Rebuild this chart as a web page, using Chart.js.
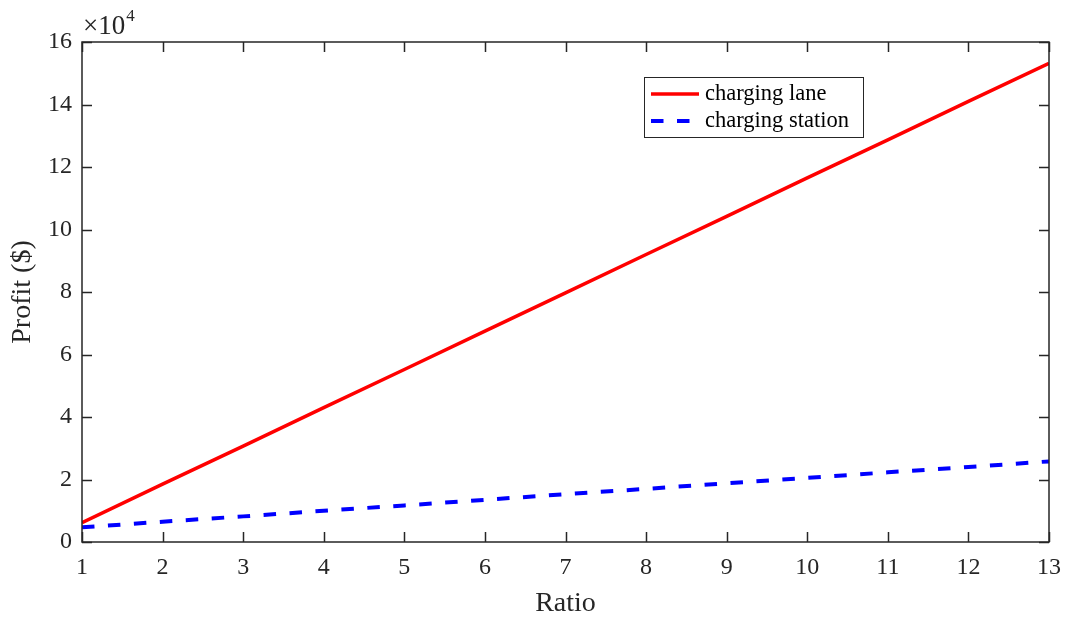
<!DOCTYPE html>
<html>
<head>
<meta charset="utf-8">
<script src="https://cdn.jsdelivr.net/npm/chart.js@4/dist/chart.umd.min.js"></script>
<style>
  html, body { margin: 0; padding: 0; background: #fff; }
  #wrap { width: 1068px; height: 625px; position: relative; }
</style>
</head>
<body>
<div id="wrap"><canvas id="myChart" width="1068" height="625"></canvas></div>
<script>
// data (profit in $)
const ratios = [1, 2, 3, 4, 5, 6, 7, 8, 9, 10, 11, 12, 13];
const laneProfit = [6200, 18500, 30700, 43000, 55200, 67500, 79700, 92000, 104200, 116500, 128700, 141000, 153200];
const stationProfit = [4700, 6500, 8200, 10000, 11700, 13500, 15300, 17000, 18800, 20500, 22300, 24000, 25800];
const yTicks = [0, 2, 4, 6, 8, 10, 12, 14, 16];
const xTicks = [1, 2, 3, 4, 5, 6, 7, 8, 9, 10, 11, 12, 13];
const seriesNames = ['charging lane', 'charging station'];

const axisColor = '#262626';
const fontFamily = '"Liberation Serif", "Times New Roman", serif';

// box round the axes with inward ticks, like matlab
const boxPlugin = {
  id: 'box_plugin',
  afterDraw(chart) {
    const ctx = chart.ctx;
    const a = chart.chartArea;
    const xs = chart.scales.x;
    const ys = chart.scales.y;
    ctx.save();
    ctx.strokeStyle = axisColor;
    ctx.lineWidth = 1.5;
    ctx.strokeRect(a.left, a.top, a.right - a.left, a.bottom - a.top);
    ctx.beginPath();
    xTicks.forEach(function (t) {
      const px = Math.round(xs.getPixelForValue(t)) + 0.5;
      ctx.moveTo(px, a.bottom); ctx.lineTo(px, a.bottom - 10);
      ctx.moveTo(px, a.top); ctx.lineTo(px, a.top + 10);
    });
    yTicks.forEach(function (t) {
      const py = Math.round(ys.getPixelForValue(t * 10000)) + 0.5;
      ctx.moveTo(a.left, py); ctx.lineTo(a.left + 10, py);
      ctx.moveTo(a.right, py); ctx.lineTo(a.right - 10, py);
    });
    ctx.stroke();

    // exponent label
    ctx.fillStyle = axisColor;
    ctx.textBaseline = 'alphabetic';
    ctx.textAlign = 'left';
    ctx.font = '27px ' + fontFamily;
    ctx.fillText('\u00d710', a.left + 1, a.top - 8);
    const w = ctx.measureText('\u00d710').width;
    ctx.font = '17px ' + fontFamily;
    ctx.fillText('4', a.left + 2 + w, a.top - 21);

    // legend
    const lx = 644, ly = 77, lw = 219, lh = 60;
    ctx.fillStyle = '#fff';
    ctx.fillRect(lx, ly, lw, lh);
    ctx.lineWidth = 1;
    ctx.strokeStyle = axisColor;
    ctx.strokeRect(lx + 0.5, ly + 0.5, lw, lh);
    chart.data.datasets.forEach(function (ds, i) {
      const yy = ly + 17 + i * 27;
      ctx.beginPath();
      ctx.strokeStyle = ds.borderColor;
      ctx.lineWidth = ds.borderWidth;
      ctx.setLineDash(ds.borderDash || []);
      ctx.moveTo(lx + 7, yy);
      ctx.lineTo(lx + 55, yy);
      ctx.stroke();
      ctx.setLineDash([]);
      ctx.fillStyle = '#000';
      ctx.font = '22.5px ' + fontFamily;
      ctx.textBaseline = 'middle';
      ctx.fillText(ds.label, lx + 61, yy);
    });
    ctx.restore();
  }
};

function makeChart() {
  const ctx = document.getElementById('myChart');
  const data = {
    labels: ratios,
    datasets: [
      {
        label: seriesNames[0],
        data: ratios.map(function (r, i) { return { x: r, y: laneProfit[i] }; }),
        borderColor: '#ff0000',
        borderWidth: 3.5,
        pointRadius: 0,
        fill: false
      },
      {
        label: seriesNames[1],
        data: ratios.map(function (r, i) { return { x: r, y: stationProfit[i] }; }),
        borderColor: '#0000ff',
        borderWidth: 4,
        borderDash: [12.5, 13.5],
        pointRadius: 0,
        fill: false
      }
    ]
  };

  new Chart(ctx, {
    type: 'line',
    data: data,
    plugins: [boxPlugin],
    options: {
      responsive: false,
      animation: false,
      devicePixelRatio: 1,
      layout: { padding: { left: 0, right: 19, top: 42, bottom: 0 } },
      plugins: {
        legend: { display: false },
        tooltip: { enabled: false }
      },
      scales: {
        x: {
          type: 'linear',
          min: 1,
          max: 13,
          afterBuildTicks: function (scale) { scale.ticks = xTicks.map(function (v) { return { value: v }; }); },
          afterFit: function (scale) {
            scale.height = 83;
            scale.paddingLeft = 0;
            scale.paddingRight = 0;
          },
          grid: { display: false, drawTicks: false },
          border: { display: false },
          ticks: { color: axisColor, padding: 11, maxRotation: 0, font: { family: fontFamily, size: 24 } },
          title: { display: true, text: 'Ratio', color: axisColor, padding: { top: 4, bottom: 5 }, font: { family: fontFamily, size: 28 } }
        },
        y: {
          min: 0,
          max: 160000,
          afterBuildTicks: function (scale) { scale.ticks = yTicks.map(function (v) { return { value: v * 10000 }; }); },
          afterFit: function (scale) {
            scale.width = 82;
            scale.paddingTop = 0;
            scale.paddingBottom = 0;
          },
          grid: { display: false, drawTicks: false },
          border: { display: false },
          ticks: {
            color: axisColor,
            padding: 10,
            font: { family: fontFamily, size: 24 },
            callback: function (v) { return String(v / 10000); }
          },
          title: { display: true, text: 'Profit ($)', color: axisColor, padding: { bottom: 0, top: 6 }, font: { family: fontFamily, size: 28 } }
        }
      }
    }
  });
}

makeChart();
</script>
</body>
</html>
